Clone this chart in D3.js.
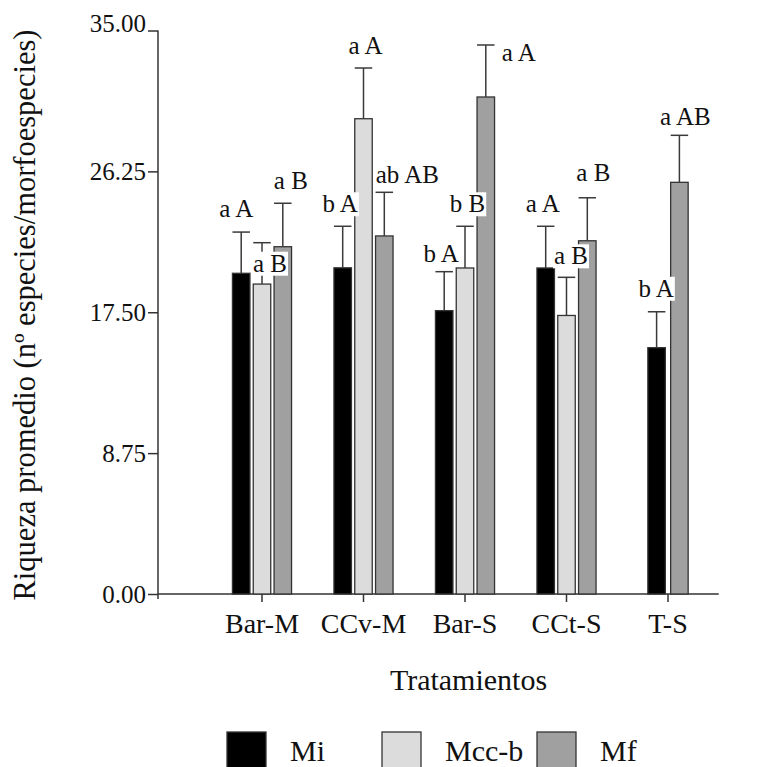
<!DOCTYPE html>
<meta charset="utf-8">
<script src="https://d3js.org/d3.v7.min.js"></script>
<body style="margin:0">
<div id="chart"></div>
<script>
// data
const categories = ["Bar-M", "CCv-M", "Bar-S", "CCt-S", "T-S"];
const series = ["Mi", "Mcc-b", "Mf"];
const miMean  = [19.92, 20.26, 17.6, 20.25, 15.3];
const miErr   = [2.56, 2.58, 2.42, 2.59, 2.23];
const mccMean = [19.25, 29.52, 20.25, 17.3, null];
const mccErr  = [2.57, 3.15, 2.59, 2.37, null];
const mfMean  = [21.57, 22.24, 30.87, 21.94, 25.57];
const mfErr   = [2.7, 2.71, 3.23, 2.67, 2.92];
const miLetters  = ["a A", "b A", "b A", "a A", "b A"];
const mccLetters = ["a B", "a A", "b B", "a B", null];
const mfLetters  = ["a B", "ab AB", "a A", "a B", "a AB"];
const yTicks = [0, 8.75, 17.5, 26.25, 35];

// where each letter label sits, relative to the top of its error bar [dx, dy]
const labelNudge = {
  "Mi":    [[-5, -15], [-2.5, -14], [-3, -10], [-3, -14], [-0.5, -15]],
  "Mcc-b": [[8, 29], [2, -14], [2.5, -14], [4.5, -13], null],
  "Mf":    [[8, -14], [23, -9], [33, 16], [6, -17], [6, -10]]
};

const colors = {"Mi": "#000000", "Mcc-b": "#dcdcdc", "Mf": "#a0a0a0"};
const means = {"Mi": miMean, "Mcc-b": mccMean, "Mf": mfMean};
const errs = {"Mi": miErr, "Mcc-b": mccErr, "Mf": mfErr};
const letters = {"Mi": miLetters, "Mcc-b": mccLetters, "Mf": mfLetters};

const width = 760, height = 767;
const axisX = 158;
const serif = '"Liberation Serif"';

const svg = d3.select("#chart").append("svg")
  .attr("width", width)
  .attr("height", height);

const x = d3.scaleBand()
  .domain(categories)
  .range([211.25, 718.75])
  .padding(0);

const y = d3.scaleLinear()
  .domain([0, 35])
  .range([594, 30.5]);

// flatten into rows, one per bar
const rows = [];
categories.forEach((c, i) => {
  const present = series.filter(s => means[s][i] != null);
  const step = present.length === 3 ? 20.8 : 22.8;
  const x1 = d3.scaleBand()
    .domain(present)
    .range([-step * present.length / 2, step * present.length / 2])
    .paddingInner(0.16)
    .paddingOuter(0.08);
  present.forEach(s => {
    rows.push({
      cat: c, i: i, s: s,
      v: means[s][i], e: errs[s][i], lab: letters[s][i],
      cx: x(c) + x.bandwidth() / 2 + x1(s) + x1.bandwidth() / 2,
      w: 17.5
    });
  });
});

// y axis
const yAxis = svg.append("g")
  .attr("transform", `translate(${axisX},0)`)
  .call(d3.axisLeft(y).tickValues(yTicks).tickFormat(d3.format(".2f")).tickSize(10).tickSizeOuter(0));
yAxis.select(".domain").remove();
yAxis.selectAll(".tick line").attr("stroke", "#333").attr("stroke-width", 1.5);
yAxis.selectAll(".tick text")
  .attr("x", -12)
  .attr("dy", "0.33em")
  .style("font-size", "25px");
yAxis.selectAll(".tick").filter(d => d === 35).select("text").attr("dy", "0.05em");

svg.append("line")
  .attr("x1", axisX).attr("x2", axisX)
  .attr("y1", y(35)).attr("y2", y(0) + 5)
  .attr("stroke", "#333").attr("stroke-width", 1.5);

// x axis
const xAxis = svg.append("g")
  .attr("transform", `translate(0,${y(0)})`)
  .call(d3.axisBottom(x).tickSize(8).tickSizeOuter(0));
xAxis.select(".domain").remove();
xAxis.selectAll(".tick line").attr("stroke", "#333").attr("stroke-width", 1.5);
xAxis.selectAll(".tick text")
  .attr("y", 39)
  .attr("dy", 0)
  .style("font-size", "28px");

svg.append("line")
  .attr("x1", axisX).attr("x2", x.range()[1])
  .attr("y1", y(0)).attr("y2", y(0))
  .attr("stroke", "#333").attr("stroke-width", 1.5);

// bars
svg.append("g").selectAll("rect")
  .data(rows)
  .join("rect")
    .attr("x", d => d.cx - d.w / 2)
    .attr("y", d => y(d.v))
    .attr("width", d => d.w)
    .attr("height", d => y(0) - y(d.v))
    .attr("fill", d => colors[d.s])
    .attr("stroke", "#333")
    .attr("stroke-width", 1.3);

// error bars (upper only)
const eb = svg.append("g")
  .attr("stroke", "#3a3a3a")
  .attr("stroke-width", 1.5);
eb.selectAll("line.v")
  .data(rows)
  .join("line")
    .attr("class", "v")
    .attr("x1", d => d.cx).attr("x2", d => d.cx)
    .attr("y1", d => y(d.v)).attr("y2", d => y(d.v + d.e));
eb.selectAll("line.cap")
  .data(rows)
  .join("line")
    .attr("class", "cap")
    .attr("x1", d => d.cx - d.w / 2).attr("x2", d => d.cx + d.w / 2)
    .attr("y1", d => y(d.v + d.e)).attr("y2", d => y(d.v + d.e));

// letter labels with white backing
const labG = svg.append("g");
rows.filter(d => d.lab).forEach(d => {
  const n = labelNudge[d.s][d.i];
  const g = labG.append("g");
  const t = g.append("text")
    .attr("x", d.cx + n[0])
    .attr("y", y(d.v + d.e) + n[1])
    .attr("text-anchor", "middle")
    .style("font-family", serif)
    .style("font-size", "25px")
    .text(d.lab);
  const b = t.node().getBBox();
  g.insert("rect", "text")
    .attr("x", b.x - 1)
    .attr("y", b.y + 2)
    .attr("width", b.width + 2)
    .attr("height", b.height - 3)
    .attr("fill", "#fff");
});

// axis titles
svg.append("text")
  .attr("transform", "translate(35,315) rotate(-90)")
  .attr("text-anchor", "middle")
  .style("font-size", "30.5px")
  .text("Riqueza promedio (nº especies/morfoespecies)");

svg.append("text")
  .attr("x", 468.5)
  .attr("y", 690)
  .attr("text-anchor", "middle")
  .style("font-size", "30px")
  .text("Tratamientos");

// legend
const legX = [227, 382, 537];
const leg = svg.append("g").selectAll("g")
  .data(series)
  .join("g")
    .attr("transform", (d, i) => `translate(${legX[i]},732)`);
leg.append("rect")
  .attr("width", 39).attr("height", 39)
  .attr("fill", d => colors[d])
  .attr("stroke", "#333")
  .attr("stroke-width", 1.3);
leg.append("text")
  .attr("x", 63)
  .attr("y", 29)
  .style("font-size", "30px")
  .text(d => d);

// serif face and near-black ink on every text
svg.selectAll("text")
  .style("font-family", serif)
  .attr("fill", "#111");
</script>
</body>
